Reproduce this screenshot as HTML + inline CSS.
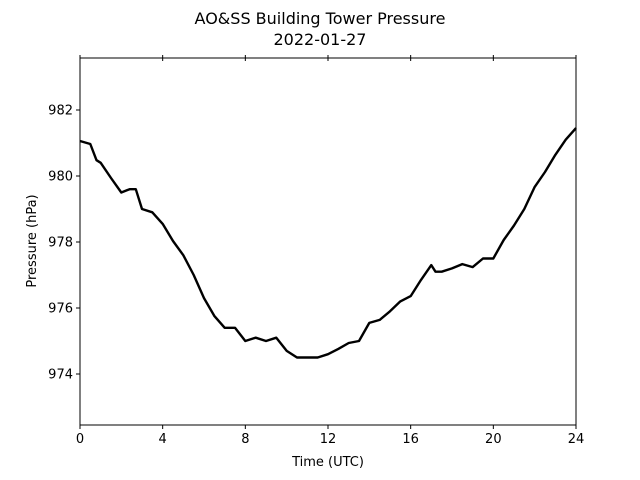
<!DOCTYPE html>
<html><head><meta charset="utf-8"><style>
body{margin:0;background:#fff;}
svg{display:block;font-family:"DejaVu Sans","Liberation Sans",sans-serif;}
</style></head><body>
<svg id="chart" width="640" height="480" viewBox="0 0 640 480" xmlns="http://www.w3.org/2000/svg">
<text x="320" y="24" font-size="16" text-anchor="middle">AO&amp;SS Building Tower Pressure</text>
<text x="320" y="45" font-size="16" text-anchor="middle">2022-01-27</text>
<g id="plot"></g>
<text x="328" y="466" font-size="13" text-anchor="middle">Time (UTC)</text>
<text transform="translate(36,241) rotate(-90)" font-size="13" text-anchor="middle">Pressure (hPa)</text>
</svg>
<script>
const hours=[0,0.5,0.8,1,1.5,2,2.4,2.7,3,3.5,4,4.5,5,5.5,6,6.5,7,7.5,8,8.5,9,9.5,10,10.5,11,11.5,12,12.5,13,13.5,14,14.5,15,15.5,16,16.5,17,17.2,17.5,18,18.5,19,19.5,20,20.5,21,21.5,22,22.5,23,23.5,24];
const pressure=[981.06,980.97,980.48,980.4,979.94,979.5,979.6,979.6,979.0,978.9,978.55,978.03,977.6,977.0,976.3,975.76,975.4,975.4,975.0,975.1,975.0,975.1,974.7,974.5,974.5,974.5,974.6,974.76,974.94,975.0,975.55,975.64,975.9,976.2,976.36,976.85,977.3,977.1,977.1,977.2,977.33,977.24,977.5,977.5,978.06,978.5,979.0,979.67,980.12,980.64,981.1,981.45];
const xTicks=[0,4,8,12,16,20,24];
const yTicks=[974,976,978,980,982];
const L=80,R=576,T=58,B=425;
const x=h=>L+(h/24)*(R-L);
const y=p=>110+(982-p)*33;
const NS="http://www.w3.org/2000/svg";
const g=document.getElementById('plot');
function mk(t,a){const e=document.createElementNS(NS,t);for(const k in a)e.setAttribute(k,a[k]);g.appendChild(e);return e;}
const frame=mk('rect',{x:L,y:T,width:R-L,height:B-T,fill:'none',stroke:'#000','stroke-width':1});


xTicks.forEach(v=>{
  const t=mk('line',{x1:x(v),x2:x(v),y1:B,y2:B+4,stroke:'#000'});
  
  
  const t2=mk('line',{x1:x(v),x2:x(v),y1:T-3,y2:T+3,stroke:'#000'});
  
  
  const l=mk('text',{x:x(v),y:B+18,'font-size':13,'text-anchor':'middle'});
  l.textContent=v;
  
  
});
yTicks.forEach(v=>{
  const t=mk('line',{x1:L-4,x2:L,y1:y(v),y2:y(v),stroke:'#000'});
  
  
  const l=mk('text',{x:L-7,y:y(v)+4.5,'font-size':13,'text-anchor':'end'});
  l.textContent=v;
  
  
});
const d=hours.map((h,i)=>(i?'L':'M')+x(h).toFixed(1)+','+y(pressure[i]).toFixed(1)).join('');
const line=mk('path',{d:d,fill:'none',stroke:'#000','stroke-width':2.4,'stroke-linejoin':'round'});


</script>
</body></html>
